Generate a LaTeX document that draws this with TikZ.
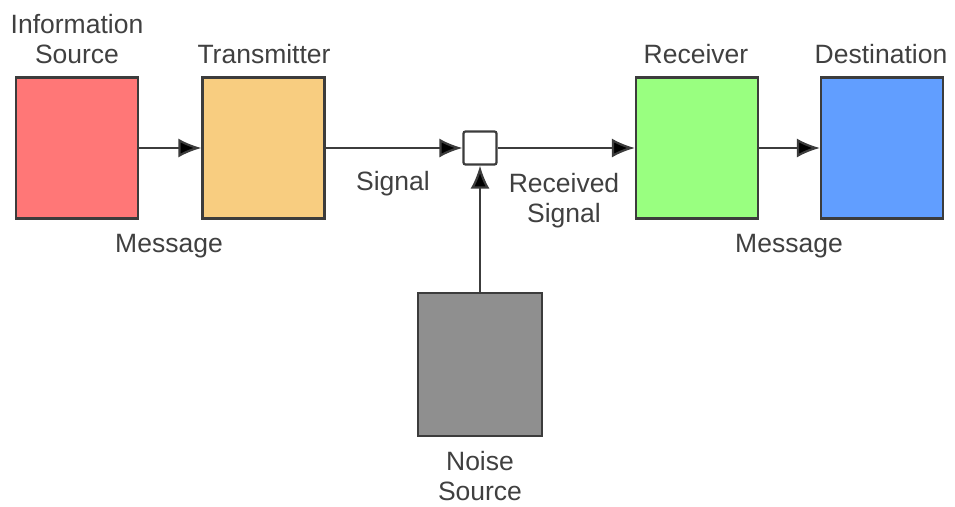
\documentclass[tikz,border=0pt]{standalone}
\usepackage{fontspec}
\setmainfont{Liberation Sans}
\usetikzlibrary{arrows.meta}
\definecolor{srcred}{HTML}{FF7777}
\definecolor{txorange}{HTML}{F8CD80}
\definecolor{rxgreen}{HTML}{99FF80}
\definecolor{dstblue}{HTML}{619EFF}
\definecolor{noisegray}{HTML}{8F8F8F}
\definecolor{boxline}{HTML}{3C3C3C}
\definecolor{txtgray}{HTML}{404040}
\begin{document}
\begin{tikzpicture}[x=1pt,y=-1pt,>={Latex[length=23pt,width=19pt,fill=black]},
	blk/.style={draw=boxline,line width=2.2pt,minimum width=122pt,minimum height=141pt,inner sep=0pt},
	lbl/.style={text=txtgray,font=\fontsize{26.5}{30}\selectfont,align=center,anchor=base,inner sep=0pt}]
		\useasboundingbox (0,0) rectangle (955,506);
		\node[blk,fill=srcred] (src) at (77,148) {};
		\node[blk,fill=txorange] (tx) at (263.5,148) {};
		\node[blk,fill=white,minimum width=33pt,minimum height=33pt,rounded corners=2pt] (mix) at (480,148) {};
		\node[blk,fill=rxgreen] (rx) at (697,148) {};
		\node[blk,fill=dstblue] (dst) at (882,148) {};
		\node[blk,fill=noisegray,minimum width=124pt,minimum height=143pt] (noise) at (480,364.5) {};
		\draw[->,line width=2.2pt,draw=boxline] (src)--(tx);
		\draw[->,line width=2.2pt,draw=boxline] (tx)--(mix);
		\draw[->,line width=2.2pt,draw=boxline] (mix)--(rx);
		\draw[->,line width=2.2pt,draw=boxline] (rx)--(dst);
		\draw[->,line width=2.2pt,draw=boxline] (noise)--(mix);
		\node[lbl] (lsrc) at (77,63) {Information\\Source};
		\node[lbl] (ltx) at (264,63) {Transmitter};
		\node[lbl] (lrx) at (696,63) {Receiver};
		\node[lbl] (ldst) at (881,63) {Destination};
		\node[lbl] (lmsg) at (169,252) {Message};
		\node[lbl] (lsig) at (393,190) {Signal};
		\node[lbl] (lrsig) at (564,222) {Received\\Signal};
		\node[lbl] (lmsgb) at (789,252) {Message};
		\node[lbl] (lnoise) at (480,500) {Noise\\Source};
		%\draw[ultra thin,cyan](0,0)grid[step=50](955,506);
		\end{tikzpicture}
\end{document}
